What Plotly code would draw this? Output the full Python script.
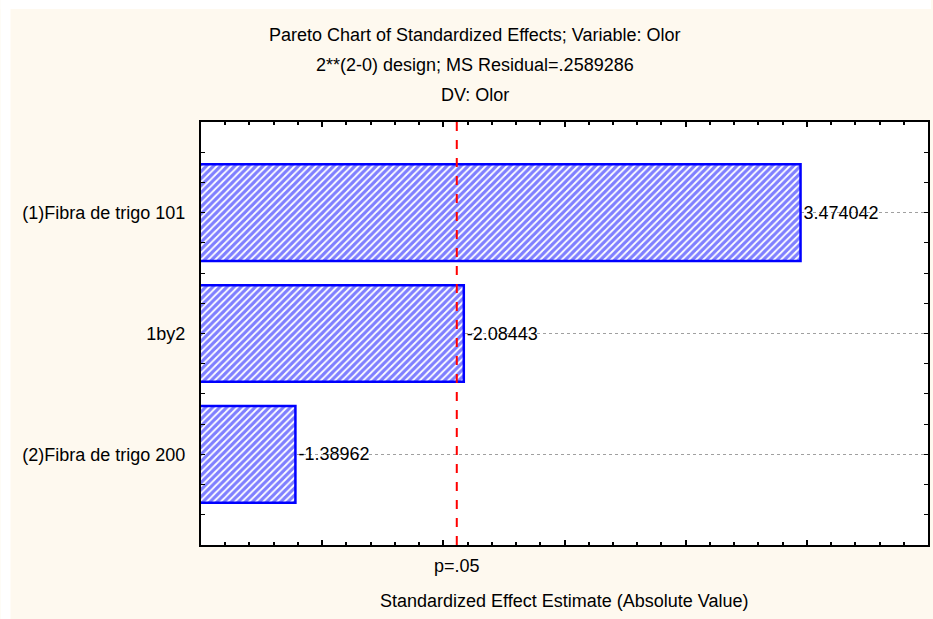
import plotly.graph_objects as go

# Effects (signed) and their labels, top to bottom
effects = ["(1)Fibra de trigo 101", "1by2", "(2)Fibra de trigo 200"]
estimates = [3.474042, -2.08443, -1.38962]
p_critical = 2.0555  # t critical value, p = .05
p_label = "p=.05"

title_lines = [
    "Pareto Chart of Standardized Effects; Variable: Olor",
    "2**(2-0) design; MS Residual=.2589286",
    "DV: Olor",
]
x_title = "Standardized Effect Estimate (Absolute Value)"

W, H = 933, 619
ML, MR, MT, MB = 201, 3, 122, 74
PW, PH = W - ML - MR, H - MT - MB
FONT = "Liberation Sans, Arial, sans-serif"
CREAM = "#fef9ef"


def px_x(px):
    return (px - ML) / PW


def px_y(py):
    return (H - MB - py) / PH


positions = list(range(len(effects)))
abs_vals = [abs(v) for v in estimates]
labels = [f"{v:g}" if abs(v) < 3 else f"{v:.6f}" for v in estimates]

fig = go.Figure()
fig.add_trace(go.Bar(
    x=abs_vals,
    y=positions,
    orientation="h",
    width=0.8,
    marker=dict(
        color="white",
        line=dict(color="#0000ff", width=2.5),
        pattern=dict(shape="/", fgcolor="#0000ff", bgcolor="white",
                     size=5, solidity=0.65),
    ),
    text=labels,
    textposition="outside",
    textfont=dict(family=FONT, size=18, color="black"),
    cliponaxis=False,
    hoverinfo="skip",
))

# critical value reference line
fig.add_shape(type="line", xref="x", yref="paper", x0=p_critical, x1=p_critical,
              y0=0, y1=1, line=dict(color="#ff0000", width=2, dash="dash"))

# white outer border on the left and top
fig.add_shape(type="rect", xref="paper", yref="paper", layer="below",
              x0=px_x(0), x1=px_x(10), y0=px_y(H), y1=px_y(0),
              fillcolor="white", line=dict(width=0))
fig.add_shape(type="rect", xref="paper", yref="paper", layer="below",
              x0=px_x(0), x1=px_x(W), y0=px_y(9), y1=px_y(0),
              fillcolor="white", line=dict(width=0))

annotations = []
for i, line in enumerate(title_lines):
    annotations.append(dict(
        text=line, xref="paper", yref="paper", x=px_x(476), y=px_y(35 + 30 * i),
        xanchor="center", yanchor="middle", showarrow=False,
        font=dict(family=FONT, size=18, color="black")))
annotations.append(dict(
    text=p_label, xref="x", yref="paper", x=p_critical, y=px_y(566),
    xanchor="center", yanchor="middle", showarrow=False,
    font=dict(family=FONT, size=18, color="black")))
annotations.append(dict(
    text=x_title, xref="paper", yref="paper", x=0.5, y=px_y(601),
    xanchor="center", yanchor="middle", showarrow=False,
    font=dict(family=FONT, size=18, color="black")))

fig.update_layout(
    width=W, height=H,
    margin=dict(l=ML, r=MR, t=MT, b=MB, pad=0),
    paper_bgcolor=CREAM,
    plot_bgcolor="white",
    showlegend=False,
    annotations=annotations,
    font=dict(family=FONT, size=18, color="black"),
    xaxis=dict(
        range=[1, 4], dtick=0.5, showticklabels=False, showgrid=False, zeroline=False,
        ticks="inside", ticklen=5, tickwidth=1.5, tickcolor="black",
        minor=dict(dtick=0.1, ticks="inside", ticklen=3, tickcolor="black", showgrid=False),
        showline=True, linecolor="black", linewidth=2, mirror="allticks",
    ),
    yaxis=dict(
        range=[2.75, -0.75], tickvals=positions, ticktext=effects,
        showgrid=True, gridcolor="#a0a0a0", griddash="dot", gridwidth=1,
        zeroline=False, ticks="inside", ticklen=4, tickcolor="black",
        minor=dict(dtick=0.25, tick0=0, ticks="inside", ticklen=4, tickcolor="black",
                   showgrid=False),
        showline=True, linecolor="black", linewidth=2, mirror="allticks",
        tickfont=dict(family=FONT, size=18, color="black"), ticklabelstandoff=10,
    ),
)

fig.write_html("out.html")
